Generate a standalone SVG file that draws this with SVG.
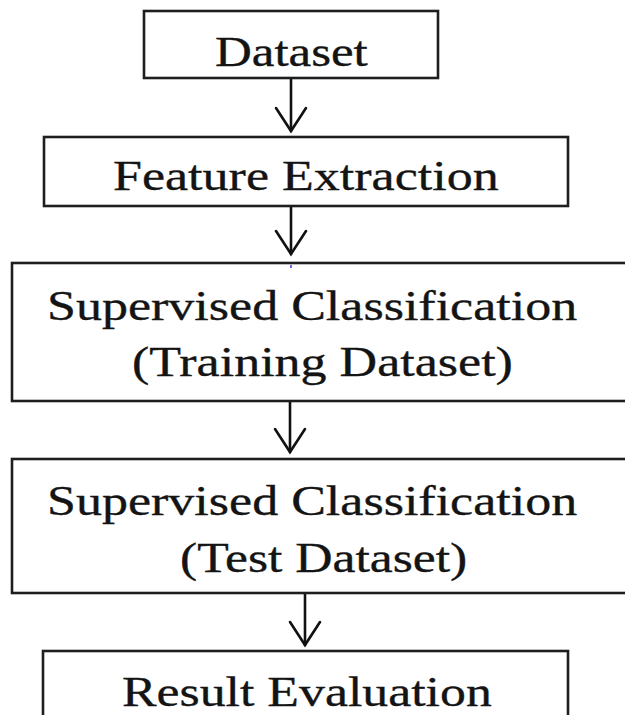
<svg xmlns="http://www.w3.org/2000/svg" width="625" height="715" viewBox="0 0 625 715">
<style>
.box{fill:#fff;stroke:#1e1e1e;stroke-width:2.6}
.lbl{font-family:"Liberation Serif","Times New Roman",serif;font-size:43px;fill:#141414;stroke:#141414;stroke-width:0.35}
.conn{fill:none;stroke:#111;stroke-width:2.6;stroke-linecap:round}
</style>
<defs>
<marker id="vhead" markerUnits="userSpaceOnUse" markerWidth="40" markerHeight="40" viewBox="-20 -30 40 40" refX="0" refY="0" orient="0">
<path d="M-15,-23 L0,0 L15,-23" fill="none" stroke="#111" stroke-width="2.6" stroke-linecap="round"/>
</marker>
</defs>
<rect width="625" height="715" fill="#fff"/>
<g id="connectors">
<line class="conn" x1="291" y1="78" x2="291" y2="131" marker-end="url(#vhead)"/>
<line class="conn" x1="291" y1="206" x2="291" y2="254" marker-end="url(#vhead)"/>
<line class="conn" x1="290" y1="401" x2="290" y2="452" marker-end="url(#vhead)"/>
<line class="conn" x1="305" y1="593" x2="305" y2="645" marker-end="url(#vhead)"/>
</g>
<g id="node-dataset">
<rect class="box" x="144" y="11" width="294" height="67"/>
<text class="lbl" transform="translate(215,66) scale(1.185,1)">Dataset</text>
</g>
<g id="node-feature-extraction">
<rect class="box" x="44" y="137" width="524" height="69"/>
<text class="lbl" transform="translate(113,190) scale(1.21,1)">Feature Extraction</text>
</g>
<g id="node-training">
<rect class="box" x="12" y="263" width="640" height="138"/>
<line x1="291" y1="265" x2="291" y2="268" stroke="#3a3adf" stroke-width="1.5"/>
<text class="lbl" transform="translate(47,320) scale(1.21,1)">Supervised Classification</text>
<text class="lbl" transform="translate(132,376) scale(1.21,1)">(Training Dataset)</text>
</g>
<g id="node-test">
<rect class="box" x="12" y="459" width="640" height="134"/>
<text class="lbl" transform="translate(47,515) scale(1.21,1)">Supervised Classification</text>
<text class="lbl" transform="translate(180,572) scale(1.2,1)">(Test Dataset)</text>
</g>
<g id="node-result">
<rect class="box" x="43" y="651" width="525" height="90"/>
<text class="lbl" transform="translate(122,706) scale(1.205,1)">Result Evaluation</text>
</g>
</svg>
